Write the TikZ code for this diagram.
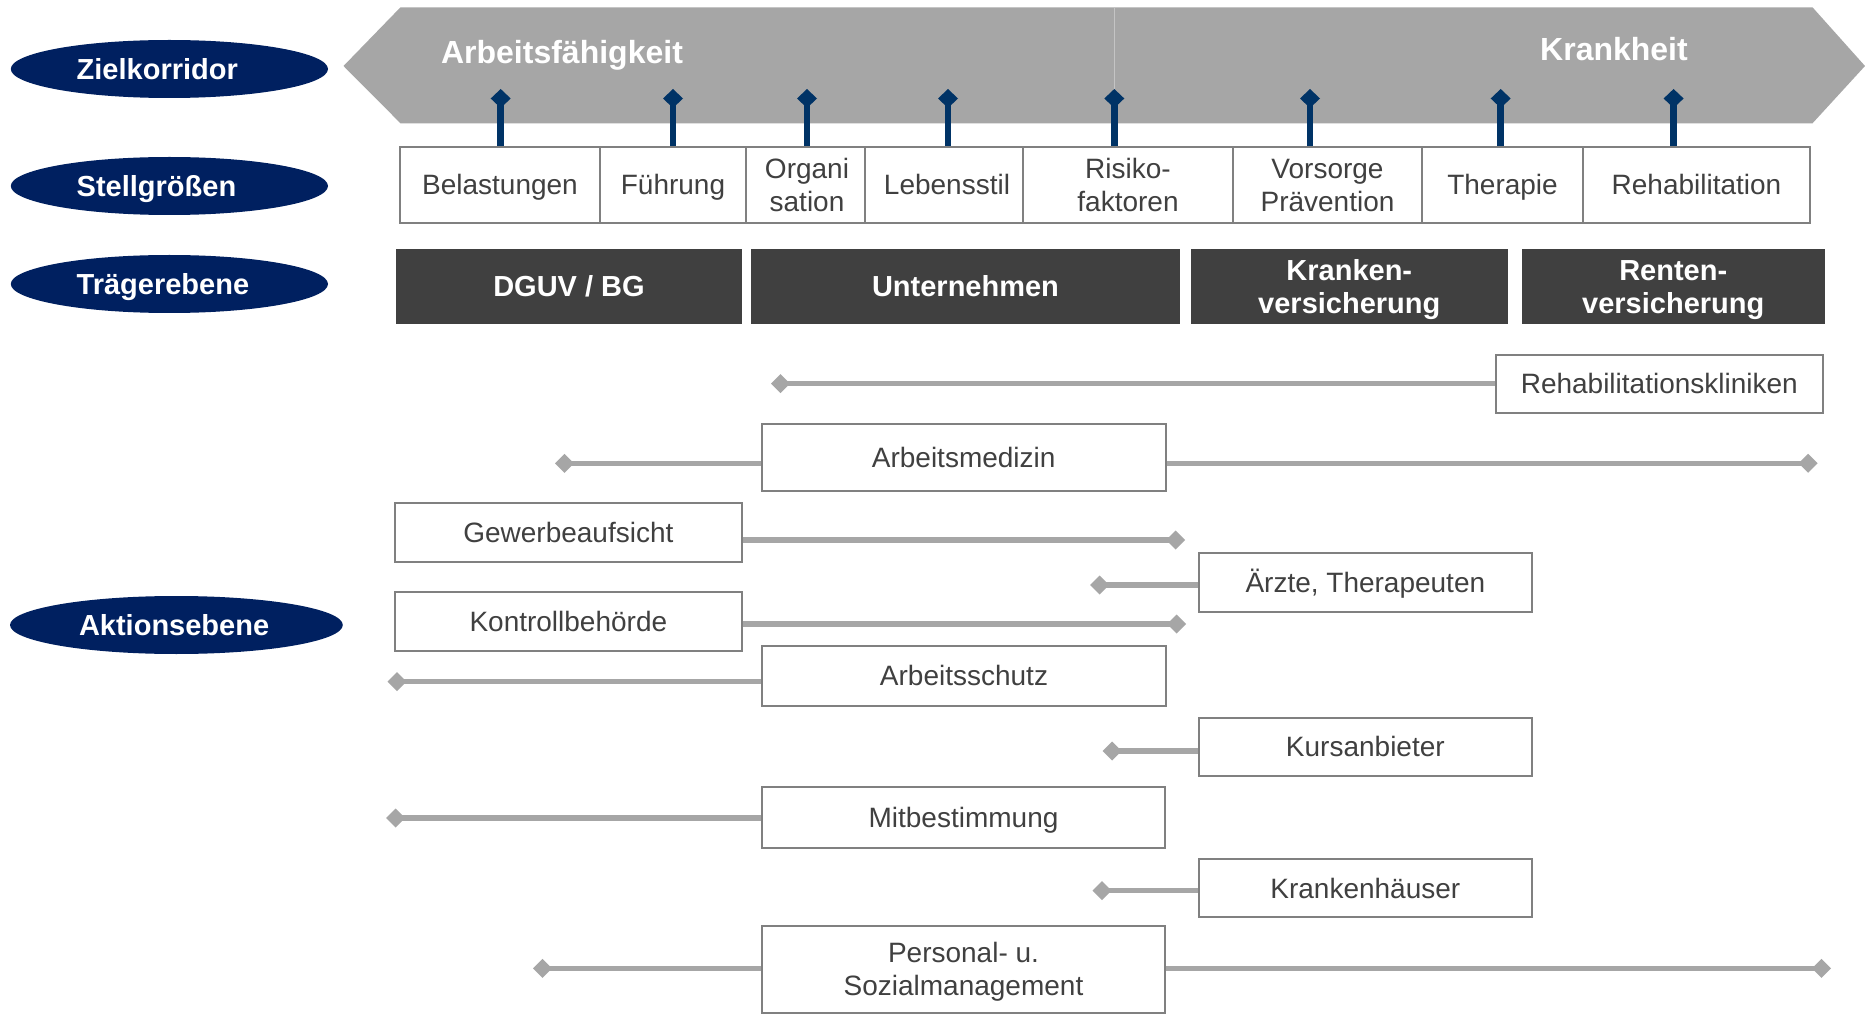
\documentclass[tikz,border=0pt]{standalone}
\usepackage{fontspec}
\setmainfont{Liberation Sans}
\usetikzlibrary{arrows.meta,shapes.geometric}
\definecolor{navy}{RGB}{0,32,96}
\definecolor{pinblue}{RGB}{0,51,102}
\definecolor{arrowgrey}{RGB}{166,166,166}
\definecolor{darkbox}{RGB}{64,64,64}
\definecolor{boxline}{RGB}{128,128,128}
\definecolor{txt}{RGB}{64,64,64}
\definecolor{faint}{RGB}{196,196,196}
\newcommand\pstrut{\rule[-0.212em]{0pt}{1.117em}}
\begin{document}
\begin{tikzpicture}[x=0.5pt,y=-0.5pt,
  struts/.style={execute at begin node=\pstrut, execute at end node=\pstrut},
  lab/.style={ellipse, fill=navy, text=white, font=\bfseries\fontsize{14.5}{17}\selectfont, inner sep=0pt, minimum height=29pt, align=left, struts},
  sg/.style={draw=boxline, line width=1pt, fill=white, text=txt, font=\fontsize{14}{16.5}\selectfont, align=center, minimum height=38pt, inner sep=0pt, struts},
  tr/.style={fill=darkbox, text=white, font=\bfseries\fontsize{14.5}{16.5}\selectfont, align=center, minimum height=37.5pt, inner sep=0pt, struts},
  ab/.style={draw=boxline, line width=1pt, fill=white, text=txt, font=\fontsize{14}{16.5}\selectfont, align=center, inner sep=0pt, struts},
  head/.style={text=white, font=\bfseries\fontsize{16}{19}\selectfont, inner sep=0pt, anchor=base},
  pin/.style={draw=pinblue, line width=3.3pt, -{Diamond[length=9.5pt,width=10pt,line width=0pt]}},
  conn/.style={draw=arrowgrey, line width=2.6pt, -{Diamond[length=9.5pt,width=9.5pt,line width=0pt]}},
]
\fill[white] (0,0) rectangle (1865,1016);
\useasboundingbox (0,0) rectangle (1865,1016);

% corridor arrow
\fill[arrowgrey] (343.5,66) -- (400.5,7.3) -- (1812.5,7.3) -- (1865,66) -- (1812.5,123.3) -- (400.5,123.3) -- cycle;
\draw[faint, line width=0.6pt] (1114.3,7.3) -- (1114.3,123.3);
\node[head] (arb) at (562,64) {Arbeitsfähigkeit};
\node[head] (krank) at (1614,61) {Krankheit};

% left labels
\node[lab, minimum width=158.6pt, text width=92.7pt] (zk) at (169.4,69) {Zielkorridor};
\node[lab, minimum width=158.6pt, text width=92.7pt] (sg) at (169.4,186) {Stellgrößen};
\node[lab, minimum width=158.6pt, text width=92.7pt] (te) at (169.4,284) {Trägerebene};
\node[lab, minimum width=166.4pt, text width=97.4pt] (ae) at (176.4,625) {Aktionsebene};

% Stellgroessen
\node[sg, minimum width=100pt] (bel) at (500,185) {Belastungen};
\node[sg, minimum width=73pt] (fue) at (673,185) {Führung};
\node[sg, minimum width=59.5pt] (org) at (805.5,185) {\pstrut\hspace*{1.5pt}Organi\\\hspace*{1.5pt}sation\pstrut};
\node[sg, minimum width=79pt] (leb) at (944,185) {\hspace*{3pt}Lebensstil};
\node[sg, minimum width=105pt] (ris) at (1128,185) {\pstrut Risiko-\\faktoren\pstrut};
\node[sg, minimum width=94.5pt] (vor) at (1327.5,185) {\pstrut Vorsorge\\Prävention\pstrut};
\node[sg, minimum width=80.5pt] (the) at (1502.5,185) {Therapie};
\node[sg, minimum width=113.5pt] (reh) at (1696.5,185) {Rehabilitation};

% pins
\coordinate (pbel) at (500.7,89);
\coordinate (pfue) at (673,89);
\coordinate (porg) at (807,89);
\coordinate (pleb) at (948,89);
\coordinate (pris) at (1114.3,89);
\coordinate (pvor) at (1310,89);
\coordinate (pthe) at (1500.7,89);
\coordinate (preh) at (1673.6,89);
\draw[pin] (bel.north -| pbel) -- (pbel);
\draw[pin] (fue.north -| pfue) -- (pfue);
\draw[pin] (org.north -| porg) -- (porg);
\draw[pin] (leb.north -| pleb) -- (pleb);
\draw[pin] (ris.north -| pris) -- (pris);
\draw[pin] (vor.north -| pvor) -- (pvor);
\draw[pin] (the.north -| pthe) -- (pthe);
\draw[pin] (reh.north -| preh) -- (preh);

% Traeger
\node[tr, minimum width=173pt] (dguv) at (569,286.5) {DGUV / BG};
\node[tr, minimum width=214.5pt] (unt) at (965.5,286.5) {Unternehmen};
\node[tr, minimum width=158.7pt] (kv) at (1349.3,286.5) {\pstrut Kranken-\\versicherung\pstrut};
\node[tr, minimum width=151.25pt] (rv) at (1673.25,286.5) {\pstrut Renten-\\versicherung\pstrut};

% action boxes
\node[ab, minimum width=163.3pt, minimum height=29pt] (rk) at (1659.3,383.7) {Rehabilitationskliniken};
\node[ab, minimum width=202pt, minimum height=33.35pt] (am) at (963.7,457.3) {Arbeitsmedizin};
\node[ab, minimum width=173.35pt, minimum height=29.65pt] (gew) at (568.35,532.35) {Gewerbeaufsicht};
\node[ab, minimum width=166.65pt, minimum height=29.35pt] (aer) at (1365.35,582.35) {Ärzte, Therapeuten};
\node[ab, minimum width=173.35pt, minimum height=29.65pt] (kon) at (568.35,621.35) {Kontrollbehörde};
\node[ab, minimum width=202pt, minimum height=30.25pt] (as) at (964,675.75) {Arbeitsschutz};
\node[ab, minimum width=166.65pt, minimum height=29pt] (kurs) at (1365.35,746.7) {Kursanbieter};
\node[ab, minimum width=201.5pt, minimum height=30.35pt] (mit) at (963.5,817.35) {Mitbestimmung};
\node[ab, minimum width=166.65pt, minimum height=29pt] (kh) at (1365.35,888.3) {Krankenhäuser};
\node[ab, minimum width=201.5pt, minimum height=43.65pt] (pers) at (963.5,969.35) {\pstrut Personal- u.\\Sozialmanagement\pstrut};

% connector ends
\coordinate (rkL) at (771,383.7);
\coordinate (amL) at (555,463.3);
\coordinate (amR) at (1817.6,463.3);
\coordinate (gewR) at (1185,540);
\coordinate (aerL) at (1090,585);
\coordinate (konR) at (1186,624);
\coordinate (asL) at (387.5,681.7);
\coordinate (kursL) at (1102.5,751);
\coordinate (mitL) at (386,818);
\coordinate (khL) at (1092.5,890.7);
\coordinate (persL) at (533,968.3);
\coordinate (persR) at (1831,968.3);

\draw[conn] (rk.west |- rkL) -- (rkL);
\draw[conn] (am.west |- amL) -- (amL);
\draw[conn] (am.east |- amR) -- (amR);
\draw[conn] (gew.east |- gewR) -- (gewR);
\draw[conn] (aer.west |- aerL) -- (aerL);
\draw[conn] (kon.east |- konR) -- (konR);
\draw[conn] (as.west |- asL) -- (asL);
\draw[conn] (kurs.west |- kursL) -- (kursL);
\draw[conn] (mit.west |- mitL) -- (mitL);
\draw[conn] (kh.west |- khL) -- (khL);
\draw[conn] (pers.west |- persL) -- (persL);
\draw[conn] (pers.east |- persR) -- (persR);
\end{tikzpicture}
\end{document}
